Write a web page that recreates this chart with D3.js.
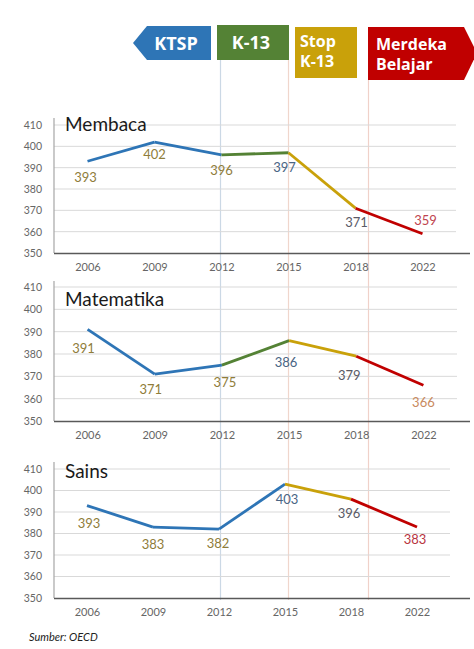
<!DOCTYPE html>
<html>
<head>
<meta charset="utf-8">
<script src="https://cdn.jsdelivr.net/npm/d3@7"></script>
<style>
  html, body { margin: 0; padding: 0; background: #fff; }
  svg { display: block; }
</style>
</head>
<body>
<svg id="chart" width="474" height="649"></svg>
<script>
// ---------------- DATA ----------------
const years = ["2006", "2009", "2012", "2015", "2018", "2022"];
const membaca = [393, 402, 396, 397, 371, 359];
const matematika = [391, 371, 375, 386, 379, 366];
const sains = [393, 383, 382, 403, 396, 383];
const yTicks = [350, 360, 370, 380, 390, 400, 410];
const subjects = ["Membaca", "Matematika", "Sains"];
const eraNames = ["KTSP", "K-13", "Stop K-13", "Merdeka Belajar"];
const source = "Sumber: OECD";

// ---------------- STYLE / LAYOUT ----------------
const C = {
  blue: "#2E75B6", green: "#548235", gold: "#C9A10A", red: "#C00000",
  grid: "#d9d9d9", tick: "#666666", axis: "#595959"
};
const segColors = [
  [C.blue, C.blue, C.green, C.gold, C.red],
  [C.blue, C.blue, C.green, C.gold, C.red],
  [C.blue, C.blue, C.blue, C.gold, C.red]
];
const labelColors = [
  ["#8f7d3a", "#8f7d3a", "#8f7d3a", "#4a6584", "#5a5a66", "#c0454f"],
  ["#8f7d3a", "#8f7d3a", "#8f7d3a", "#4a6584", "#5a5a66", "#c98a60"],
  ["#8f7d3a", "#8f7d3a", "#8f7d3a", "#4a6584", "#5a5a66", "#b8353f"]
];
const labelOffsets = [
  [[-2, 16], [0, 12], [0, 15], [-4, 14], [1, 14], [3, -14]],
  [[-4, 19], [-4, 15], [3, 17], [-3, 21], [-7, 19], [0, 17]],
  [[2, 17], [0, 17], [-1, 14], [2, 15], [-2, 14], [-2, 12]]
];
const panels = [
  { left: 54, right: 456, y410: 125, y350: 253, axisEnd: 470, top: 118, titleY: 131 },
  { left: 54, right: 457, y410: 287, y350: 421, axisEnd: 470, top: 281, titleY: 306 },
  { left: 54, right: 450, y410: 469, y350: 598, axisEnd: 470, top: 462, titleY: 478 }
];
const series = [membaca, matematika, sains];
const font = "Lato, 'Open Sans', sans-serif";

const svg = d3.select("#chart");

// x scale of the first panel, used for era divider lines
const x0 = d3.scalePoint().domain(years).range([panels[0].left, panels[0].right]).padding(0.5);
const dividerX = [x0("2012") - 1, x0("2015"), x0("2018") + 13];
const dividerCol = ["#cbd8e5", "#f0d6cc", "#f0d1c9"];
const dividerTop = [60, 60, 80];

dividerX.forEach((dx, i) => {
  svg.append("line")
    .attr("x1", dx).attr("x2", dx)
    .attr("y1", dividerTop[i]).attr("y2", 600)
    .attr("stroke", dividerCol[i]).attr("stroke-width", 1.2);
});

// ---------------- BANNERS ----------------
const ban = svg.append("g");
// KTSP arrow (pointing left)
ban.append("path")
  .attr("d", `M133,43 L147,26 L211,26 L211,60 L147,60 Z`)
  .attr("fill", C.blue);
ban.append("text").attr("x", 176).attr("y", 50)
  .attr("text-anchor", "middle").attr("fill", "#fff")
  .attr("font-family", "'Open Sans', sans-serif").attr("font-weight", 700).attr("font-size", 18)
  .text(eraNames[0]);
// K-13
ban.append("rect").attr("x", 217).attr("y", 25).attr("width", 72).attr("height", 35).attr("fill", C.green);
ban.append("text").attr("x", 251).attr("y", 49)
  .attr("text-anchor", "middle").attr("fill", "#fff")
  .attr("font-family", "'Open Sans', sans-serif").attr("font-weight", 700).attr("font-size", 18)
  .text(eraNames[1]);
// Stop K-13
ban.append("rect").attr("x", 295).attr("y", 27).attr("width", 62).attr("height", 51).attr("fill", C.gold);
const stopParts = eraNames[2].split(" ");
stopParts.forEach((t, i) => {
  ban.append("text").attr("x", 300).attr("y", 47 + i * 20)
    .attr("fill", "#fff")
    .attr("font-family", "'Open Sans', sans-serif").attr("font-weight", 700).attr("font-size", 16)
    .text(t);
});
// Merdeka Belajar arrow (pointing right)
ban.append("path")
  .attr("d", `M368,27 L464,27 L477,53 L464,80 L368,80 Z`)
  .attr("fill", C.red);
const mbParts = eraNames[3].split(" ");
mbParts.forEach((t, i) => {
  ban.append("text").attr("x", 376).attr("y", 50 + i * 20)
    .attr("fill", "#fff")
    .attr("font-family", "'Open Sans', sans-serif").attr("font-weight", 700).attr("font-size", 16)
    .text(t);
});

// ---------------- PANELS ----------------
panels.forEach((p, pi) => {
  const g = svg.append("g");
  const x = d3.scalePoint().domain(years).range([p.left, p.right]).padding(0.5);
  const y = d3.scaleLinear().domain([350, 410]).range([p.y350, p.y410]);

  // gridlines
  g.selectAll(".grid").data(yTicks.filter(t => t > 350)).enter().append("line")
    .attr("x1", p.left).attr("x2", p.right)
    .attr("y1", d => y(d)).attr("y2", d => y(d))
    .attr("stroke", C.grid).attr("stroke-width", 1);

  // y axis labels
  const ya = g.append("g").attr("transform", `translate(${p.left},0)`)
    .call(d3.axisLeft(y).tickValues(yTicks).tickSize(0).tickPadding(12));
  ya.select(".domain").remove();
  ya.selectAll("text").attr("font-family", font).attr("font-size", 10.5).attr("fill", C.tick);

  // left axis line
  g.append("line").attr("x1", p.left).attr("x2", p.left)
    .attr("y1", p.top).attr("y2", p.y350)
    .attr("stroke", "#a6a6a6").attr("stroke-width", 1.2);

  // x axis
  const xa = g.append("g").attr("transform", `translate(0,${p.y350})`)
    .call(d3.axisBottom(x).tickSize(0).tickPadding(10));
  xa.select(".domain").remove();
  xa.selectAll("text").attr("font-family", font).attr("font-size", 11).attr("fill", C.tick);
  g.append("line").attr("x1", p.left).attr("x2", p.axisEnd)
    .attr("y1", p.y350 + 0.5).attr("y2", p.y350 + 0.5)
    .attr("stroke", C.axis).attr("stroke-width", 1.6);

  // title
  g.append("text").attr("x", p.left + 11).attr("y", p.titleY)
    .attr("font-family", font).attr("font-size", 19).attr("fill", "#1a1a1a")
    .text(subjects[pi]);

  // line segments
  const vals = series[pi];
  const pts = years.map((yr, i) => [x(yr), y(vals[i])]);
  for (let i = 0; i < pts.length - 1; i++) {
    g.append("path")
      .attr("d", d3.line()([pts[i], pts[i + 1]]))
      .attr("stroke", segColors[pi][i]).attr("stroke-width", 2.8)
      .attr("fill", "none").attr("stroke-linecap", "butt");
  }

  // data labels
  g.selectAll(".lbl").data(vals).enter().append("text")
    .attr("x", (d, i) => pts[i][0] + labelOffsets[pi][i][0])
    .attr("y", (d, i) => pts[i][1] + labelOffsets[pi][i][1])
    .attr("text-anchor", "middle").attr("dominant-baseline", "central")
    .attr("font-family", font).attr("font-size", 13)
    .attr("fill", (d, i) => labelColors[pi][i])
    .text(d => d);
});

// source
svg.append("text").attr("x", 29).attr("y", 641)
  .attr("font-family", font).attr("font-style", "italic").attr("font-size", 11).attr("fill", "#222")
  .text(source);
</script>
</body>
</html>
